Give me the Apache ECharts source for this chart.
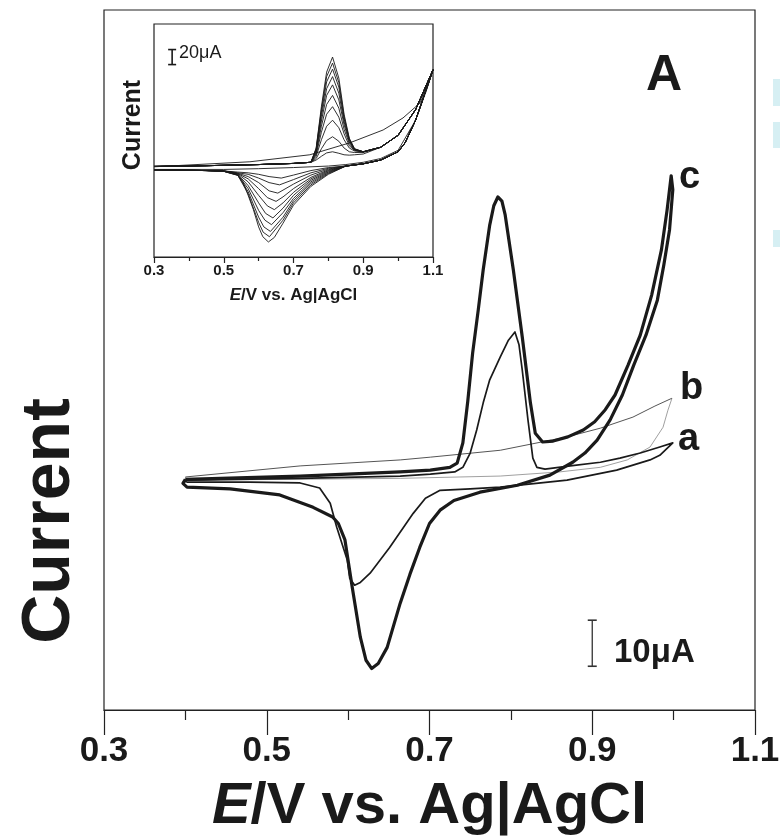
<!DOCTYPE html>
<html><head><meta charset="utf-8">
<script src="https://cdn.jsdelivr.net/npm/echarts@6/dist/echarts.min.js"></script>
<style>html,body{margin:0;padding:0;background:#fff}#c{width:780px;height:836px}</style>
</head><body><div id="c"></div>
<script>
// ---------- Main panel: [E (V vs Ag|AgCl), current (µA)] ----------
const curveC = [
  [0.400,-0.9],[0.541,-0.2],[0.664,0.7],[0.701,1.1],[0.725,1.7],[0.734,2.6],[0.741,7.0],[0.747,16],[0.753,26.5],
  [0.760,36],[0.766,44.6],[0.774,54.3],[0.779,58.5],[0.784,60.4],[0.789,59.5],[0.793,56.5],[0.803,44.6],[0.814,30.0],
  [0.824,15.7],[0.830,9.1],[0.839,7.2],[0.852,7.4],[0.870,8.3],[0.889,9.8],[0.903,11.6],[0.916,14.2],[0.928,17.4],[0.944,23.9],
  [0.959,30.4],[0.973,39.1],[0.985,48.9],[0.992,57.6],[0.997,65.0],
  [0.999,62],[0.995,53.3],[0.988,45.7],[0.980,38.0],[0.966,30.4],[0.951,23.9],[0.937,17.4],[0.922,12.0],[0.906,7.6],
  [0.891,4.8],[0.876,2.8],[0.848,0],[0.808,-2.2],[0.762,-3.7],[0.730,-5.5],[0.713,-7.6],[0.700,-10.5],[0.688,-15.7],
  [0.676,-21.5],[0.664,-27.8],[0.648,-37.4],[0.637,-40.9],[0.629,-42.0],[0.622,-40.2],[0.615,-35.2],[0.605,-24.3],
  [0.596,-14],[0.588,-10.5],[0.581,-9.1],[0.557,-7.0],[0.516,-4.3],[0.455,-3.0],[0.402,-2.6],[0.397,-1.8],[0.400,-0.9]
];
const curveA = [
  [0.400,-1.1],[0.541,-0.7],[0.664,-0.2],[0.701,0.2],[0.731,0.7],[0.741,1.7],[0.750,4.8],[0.758,9.8],[0.766,15.7],
  [0.774,20.7],[0.787,25.7],[0.797,29.3],[0.805,31.1],[0.810,28.3],[0.814,22.8],[0.821,12.0],[0.827,3.7],[0.832,1.7],
  [0.842,1.3],[0.873,2.0],[0.910,2.8],[0.934,3.7],[0.959,4.8],[0.983,6.1],[0.999,7.0],
  [0.983,4.3],[0.971,3.3],[0.930,1.1],[0.869,-1.1],[0.787,-2.6],[0.750,-3.0],[0.713,-3.3],[0.695,-5.0],[0.680,-8.3],
  [0.651,-15.7],[0.627,-21.3],[0.615,-23.3],[0.608,-23.9],[0.602,-22.4],[0.599,-18.5],[0.586,-11.3],[0.578,-6.1],
  [0.565,-2.8],[0.541,-1.7],[0.479,-1.5],[0.402,-1.5],[0.398,-1.3],[0.400,-1.1]
];
const curveBFwd = [
  [0.400,-0.4],[0.541,2.0],[0.664,3.3],[0.701,3.9],[0.787,5.4],[0.869,8.3],[0.910,10.2],[0.950,12.6],[0.977,15.0],[0.998,16.7]
];
const curveBRev = [
  [0.998,16.7],[0.993,14.1],[0.987,10.4],[0.971,6.1],[0.943,3.3],[0.910,1.7],[0.860,0.7],[0.787,-0.2],[0.664,-0.7],
  [0.541,-0.9],[0.402,-1.1],[0.400,-0.4]
];
const scaleBarMain = [[0.9,-41.5],[0.9,-31.5]];   // 10 µA

// ---------- Inset: repeated cycles ----------
const insetFwdBase = [[0.30,0.5],[0.45,1.5],[0.60,3],[0.70,4.5],[0.75,6]];
const insetFwdTail = [[0.95,26],[1.00,42],[1.05,76],[1.10,129]];
const insetRevHead = [[1.08,102],[1.05,62],[1.02,32],[1.00,20],[0.95,9],[0.90,4],[0.85,1]];
const insetRevTail = [[0.45,-5],[0.30,-4]];
const insetPeaks = [
  [[0.765,9],[0.78,14],[0.795,18.5],[0.812,20],[0.83,18],[0.845,16],[0.86,15.5],[0.875,16],[0.90,17]],
  [[0.765,11],[0.78,24],[0.795,35],[0.812,40],[0.83,34],[0.845,25],[0.86,20],[0.875,19],[0.90,19]],
  [[0.765,14],[0.78,36],[0.795,54],[0.812,62],[0.83,52],[0.845,36],[0.86,25],[0.875,21],[0.90,20]],
  [[0.765,16],[0.78,46],[0.795,70],[0.812,80],[0.83,66],[0.845,44],[0.86,28],[0.875,22],[0.90,20]],
  [[0.765,18],[0.78,54],[0.795,83],[0.812,95],[0.83,78],[0.845,50],[0.86,31],[0.875,22],[0.90,20]],
  [[0.765,20],[0.78,61],[0.795,95],[0.812,109],[0.83,89],[0.845,56],[0.86,33],[0.875,23],[0.90,20]],
  [[0.765,22],[0.78,67],[0.795,104],[0.812,120],[0.83,98],[0.845,60],[0.86,35],[0.875,23],[0.90,20]],
  [[0.765,23],[0.78,72],[0.795,113],[0.812,130],[0.83,106],[0.845,64],[0.86,36],[0.875,23],[0.90,20]],
  [[0.765,24],[0.78,76],[0.795,120],[0.812,138],[0.83,112],[0.845,67],[0.86,37],[0.875,24],[0.90,20]],
  [[0.765,25],[0.78,80],[0.795,126],[0.812,146],[0.83,118],[0.845,70],[0.86,38],[0.875,24],[0.90,20]]
];
const insetWaves = [
  [[0.80,-1],[0.75,-5],[0.70,-11],[0.665,-15],[0.63,-13],[0.60,-10],[0.57,-8],[0.54,-7],[0.50,-5.5]],
  [[0.80,-2],[0.75,-8],[0.70,-17],[0.66,-24],[0.63,-21],[0.60,-15],[0.57,-10],[0.54,-8],[0.50,-5.5]],
  [[0.80,-3],[0.75,-11],[0.70,-23],[0.655,-35],[0.63,-32],[0.60,-21],[0.57,-13],[0.54,-8.5],[0.50,-5.5]],
  [[0.80,-4],[0.75,-14],[0.70,-29],[0.67,-40],[0.65,-46],[0.625,-41],[0.60,-29],[0.57,-16],[0.54,-9],[0.50,-5.5]],
  [[0.80,-5],[0.75,-16],[0.70,-34],[0.67,-48],[0.645,-57],[0.625,-52],[0.60,-38],[0.57,-20],[0.54,-9.5],[0.50,-5.5]],
  [[0.80,-6],[0.75,-18],[0.70,-38],[0.67,-55],[0.641,-68],[0.62,-62],[0.60,-48],[0.57,-25],[0.54,-10],[0.50,-5.5]],
  [[0.80,-7],[0.75,-20],[0.70,-42],[0.67,-61],[0.637,-77],[0.618,-71],[0.60,-58],[0.57,-29],[0.54,-10.5],[0.50,-6]],
  [[0.80,-8],[0.75,-22],[0.70,-45],[0.67,-67],[0.634,-86],[0.615,-80],[0.60,-67],[0.57,-33],[0.54,-11],[0.50,-6]],
  [[0.80,-9],[0.75,-24],[0.70,-48],[0.67,-71],[0.631,-93],[0.613,-87],[0.60,-74],[0.57,-36],[0.54,-11],[0.50,-6]],
  [[0.80,-10],[0.75,-26],[0.70,-51],[0.67,-75],[0.645,-94],[0.628,-100],[0.612,-93],[0.60,-80],[0.585,-57],[0.57,-38],[0.555,-20],[0.54,-11.5],[0.50,-6]]
];
const insetFirstScan = [
  [0.30,0],[0.575,6.7],[0.747,16],[0.862,32],[0.957,49],[1.014,65],[1.063,85],[1.10,129],
  [1.08,100],[1.05,62],[1.00,22],[0.95,11],[0.90,6],[0.85,3],[0.80,1],[0.70,-1],[0.60,-2.5],[0.50,-3.5],[0.30,-3.5]
];
const scaleBarInset = [[0.352,136],[0.352,156]];  // 20 µA
const xTickLabels = ['0.3','0.5','0.7','0.9','1.1'];

const chart = echarts.init(document.getElementById('c'), null, {renderer:'canvas'});
const FONT = '"Liberation Sans Narrow","Liberation Sans",Arial,sans-serif';
const FONT2 = '"Liberation Sans",Arial,sans-serif';
const BLACK = '#1a1a1a';

const series = [];
function addLine(data, xi, w, color, z, type){
  series.push({type:'line', xAxisIndex:xi, yAxisIndex:xi, data:data, symbol:'none', silent:true,
    lineStyle:{width:w, color:color, type:type||'solid', join:'round'}, z:z});
}
addLine(curveBFwd,0,1,'#555',2);
addLine(curveBRev,0,0.8,'#888',2);
addLine(curveA,0,1.7,BLACK,3);
addLine(curveC,0,3.2,BLACK,4);
series.push({type:'line', xAxisIndex:0, yAxisIndex:0, data:scaleBarMain, symbol:'rect', symbolSize:[9,1.6],
  itemStyle:{color:'#333'}, lineStyle:{width:1.3,color:'#333'}, silent:true, z:5});
for (let k=0;k<insetPeaks.length;k++){
  const d = insetFwdBase.concat(insetPeaks[k], insetFwdTail, insetRevHead, insetWaves[k], insetRevTail);
  addLine(d,1,0.9,BLACK,6);
}
addLine(insetFirstScan,1,0.9,BLACK,6);
series.push({type:'line', xAxisIndex:1, yAxisIndex:1, data:scaleBarInset, symbol:'rect', symbolSize:[8,1.6],
  itemStyle:{color:BLACK}, lineStyle:{width:1.6,color:BLACK}, silent:true, z:7});

function xAxisCfg(gi, fs, tickLen, minorLen, nameSize, nameGap, labelMargin){
  return {gridIndex:gi, type:'value', min:0.3, max:1.1, interval:0.2,
    axisLine:{onZero:false, lineStyle:{color:'#222', width:1.2}},
    axisTick:{show:true, inside:false, length:tickLen, lineStyle:{color:'#222', width:1.2}},
    minorTick:{show:true, splitNumber:2, length:minorLen, lineStyle:{color:'#222', width:1.2}},
    splitLine:{show:false},
    axisLabel:{color:BLACK, fontFamily:FONT, fontWeight:'bold', fontSize:fs, margin:labelMargin, hideOverlap:false,
      formatter:(v)=>xTickLabels[Math.round((v-0.3)/0.2)] || ''},
    name:'{it|E}{n|/V vs. Ag|AgCl}', nameLocation:'middle', nameGap:nameGap,
    nameTextStyle:{rich:{
      it:{fontFamily:FONT2, fontWeight:'bold', fontStyle:'italic', fontSize:nameSize, color:BLACK},
      n:{fontFamily:FONT2, fontWeight:'bold', fontSize:nameSize, color:BLACK}}}
  };
}

const option = {
  animation:false,
  backgroundColor:'#ffffff',
  grid:[
    {left:104, top:10, width:651, height:700, show:true, borderColor:'#222', borderWidth:1.2, backgroundColor:'transparent', containLabel:false, outerBoundsMode:'none'},
    {left:154, top:24, width:279, height:233, show:true, borderColor:'#222', borderWidth:1.2, backgroundColor:'#fff', z:3, containLabel:false, outerBoundsMode:'none'}
  ],
  xAxis:[
    xAxisCfg(0, 35, 25, 10, 58, 68, 24),
    Object.assign(xAxisCfg(1, 15, 6, 4, 17, 30, 6), {z:6})
  ],
  yAxis:[
    {gridIndex:0, type:'value', min:-51, max:101, show:false},
    {gridIndex:1, type:'value', min:-120, max:190, show:false}
  ],
  series:series,
  graphic:[
    {type:'text', z:20, style:{text:'A', x:664, y:76, align:'center', verticalAlign:'middle', font:'bold 50px '+FONT2, fill:BLACK}},
    {type:'text', z:20, style:{text:'c', x:679, y:178, align:'left', verticalAlign:'middle', font:'bold 38px '+FONT2, fill:BLACK}},
    {type:'text', z:20, style:{text:'b', x:680, y:389, align:'left', verticalAlign:'middle', font:'bold 38px '+FONT2, fill:BLACK}},
    {type:'text', z:20, style:{text:'a', x:678, y:440, align:'left', verticalAlign:'middle', font:'bold 38px '+FONT2, fill:BLACK}},
    {type:'text', z:20, style:{text:'10\u03bcA', x:614, y:653, align:'left', verticalAlign:'middle', font:'bold 33px '+FONT2, fill:BLACK}},
    {type:'text', z:20, style:{text:'20\u03bcA', x:179, y:53, align:'left', verticalAlign:'middle', font:'18px '+FONT2, fill:BLACK}},
    {type:'text', z:20, rotation:Math.PI/2, x:50, y:521, style:{text:'Current', x:0, y:0, align:'center', verticalAlign:'middle', font:'bold 68px '+FONT2, fill:BLACK}},
    {type:'text', z:20, rotation:Math.PI/2, x:133, y:125, style:{text:'Current', x:0, y:0, align:'center', verticalAlign:'middle', font:'bold 25px '+FONT2, fill:BLACK}},
    {type:'rect', z:1, shape:{x:773, y:79, width:7, height:27}, style:{fill:'#d6eff3'}},
    {type:'rect', z:1, shape:{x:773, y:122, width:7, height:26}, style:{fill:'#d6eff3'}},
    {type:'rect', z:1, shape:{x:773, y:230, width:7, height:17}, style:{fill:'#d6eff3'}}
  ]
};
chart.setOption(option);
</script>
</body></html>
